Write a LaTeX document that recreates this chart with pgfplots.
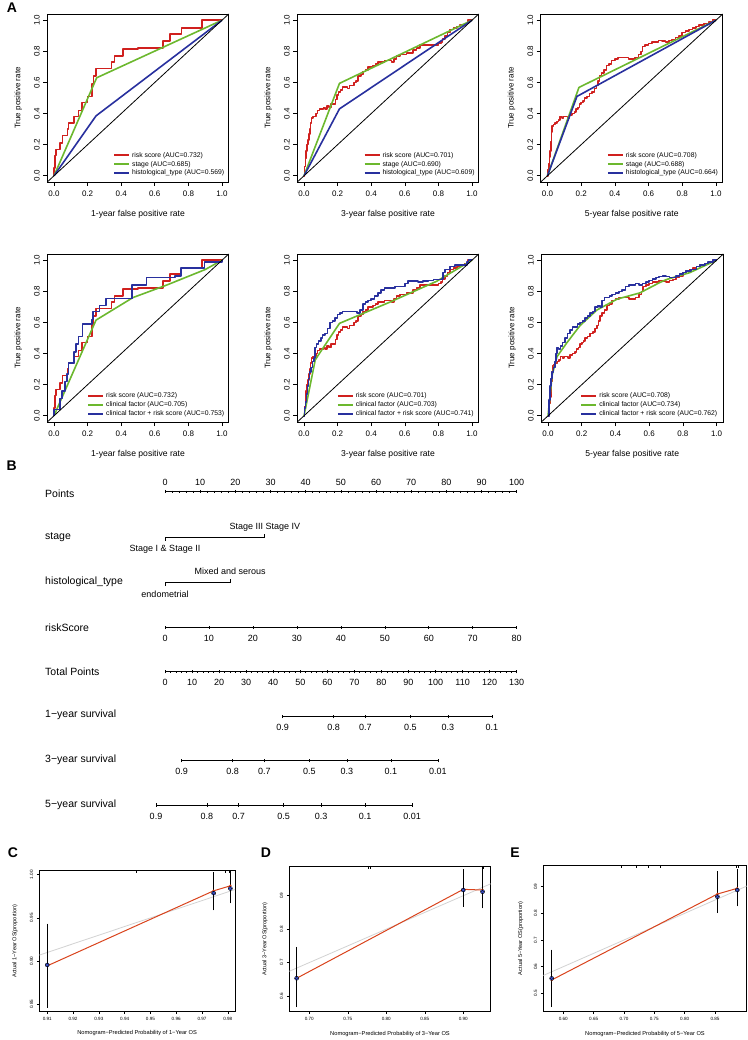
\documentclass[border=0pt]{standalone}
\usepackage{fontspec}
\setmainfont{Liberation Sans}
\usepackage{pgfplots}
\usepackage{pgfplotstable}
\pgfplotsset{compat=1.18}
\definecolor{rocred}{HTML}{D0201E}
\definecolor{rocgreen}{HTML}{6CB82E}
\definecolor{rocblue}{HTML}{28309E}
\definecolor{calred}{HTML}{D9431C}
\definecolor{calblue}{HTML}{3A4FC8}
\definecolor{calgray}{HTML}{D2D2D2}

% ---------- ROC data ----------
\pgfplotstableread{
x y
0 0
0 0.05
0.005 0.13
0.012 0.17
0.035 0.21
0.05 0.26
0.08 0.30
0.087 0.34
0.12 0.38
0.146 0.42
0.166 0.47
0.2 0.51
0.225 0.59
0.235 0.64
0.25 0.69
0.343 0.73
0.36 0.77
0.41 0.815
0.5 0.82
0.65 0.865
0.69 0.91
0.76 0.95
0.88 1.0
1.0 1.0
}\riskA
\pgfplotstableread{
x y
0 0
0.003 0.06
0.008 0.11
0.013 0.16
0.018 0.20
0.024 0.23
0.028 0.27
0.034 0.30
0.038 0.34
0.044 0.37
0.055 0.38
0.066 0.38
0.072 0.40
0.08 0.42
0.092 0.43
0.105 0.43
0.115 0.44
0.126 0.43
0.138 0.45
0.15 0.44
0.162 0.46
0.178 0.46
0.188 0.49
0.196 0.52
0.205 0.54
0.218 0.55
0.23 0.57
0.245 0.57
0.258 0.56
0.27 0.58
0.285 0.58
0.298 0.60
0.31 0.61
0.322 0.64
0.338 0.65
0.35 0.67
0.365 0.68
0.38 0.70
0.395 0.70
0.41 0.71
0.425 0.72
0.44 0.73
0.46 0.73
0.48 0.74
0.5 0.74
0.52 0.73
0.535 0.75
0.55 0.77
0.57 0.78
0.59 0.78
0.61 0.79
0.63 0.79
0.65 0.81
0.67 0.82
0.69 0.84
0.72 0.84
0.75 0.84
0.78 0.84
0.80 0.85
0.815 0.86
0.825 0.88
0.84 0.90
0.855 0.92
0.87 0.94
0.89 0.95
0.91 0.96
0.93 0.97
0.955 0.98
0.975 1.0
1 1
}\riskB
\pgfplotstableread{
x y
0 0
0.004 0.04
0.008 0.08
0.012 0.12
0.016 0.16
0.02 0.22
0.023 0.28
0.026 0.32
0.035 0.33
0.045 0.34
0.055 0.35
0.065 0.36
0.075 0.38
0.085 0.37
0.095 0.38
0.11 0.38
0.12 0.37
0.13 0.39
0.145 0.40
0.16 0.41
0.17 0.43
0.18 0.44
0.19 0.46
0.2 0.47
0.21 0.48
0.22 0.50
0.235 0.51
0.25 0.53
0.265 0.54
0.28 0.56
0.29 0.58
0.3 0.61
0.31 0.64
0.32 0.66
0.335 0.68
0.35 0.71
0.365 0.72
0.38 0.74
0.4 0.75
0.42 0.76
0.44 0.76
0.46 0.76
0.48 0.75
0.5 0.75
0.52 0.76
0.54 0.78
0.555 0.80
0.565 0.83
0.58 0.84
0.6 0.85
0.62 0.86
0.64 0.86
0.66 0.87
0.68 0.865
0.7 0.86
0.72 0.87
0.74 0.875
0.76 0.89
0.78 0.90
0.80 0.92
0.82 0.93
0.84 0.94
0.86 0.95
0.88 0.96
0.9 0.97
0.93 0.98
0.96 0.99
0.98 1.0
1 1
}\riskC
\pgfplotstableread{
x y
0 0
0 0.04
0.037 0.11
0.047 0.16
0.067 0.22
0.077 0.27
0.087 0.34
0.12 0.41
0.13 0.46
0.146 0.51
0.17 0.59
0.225 0.62
0.232 0.67
0.27 0.71
0.31 0.755
0.465 0.84
0.55 0.89
0.72 0.90
0.757 0.95
0.895 0.99
1 1
}\combA
\pgfplotstableread{
x y
0 0
0.004 0.05
0.008 0.09
0.014 0.14
0.02 0.19
0.026 0.24
0.032 0.28
0.04 0.31
0.05 0.35
0.06 0.37
0.066 0.44
0.075 0.46
0.087 0.48
0.1 0.50
0.11 0.52
0.125 0.53
0.14 0.56
0.155 0.60
0.17 0.61
0.185 0.63
0.2 0.65
0.215 0.66
0.23 0.67
0.26 0.67
0.29 0.67
0.315 0.66
0.335 0.68
0.35 0.72
0.365 0.73
0.38 0.74
0.4 0.75
0.42 0.77
0.44 0.79
0.46 0.81
0.48 0.82
0.51 0.82
0.54 0.83
0.57 0.83
0.6 0.85
0.62 0.865
0.65 0.865
0.68 0.86
0.71 0.865
0.74 0.87
0.77 0.875
0.8 0.875
0.82 0.88
0.826 0.92
0.84 0.94
0.87 0.96
0.9 0.97
0.95 0.97
0.97 0.99
0.98 1
1 1
}\combB
\pgfplotstableread{
x y
0 0
0.005 0.10
0.01 0.19
0.016 0.24
0.024 0.28
0.032 0.31
0.04 0.35
0.048 0.40
0.053 0.44
0.063 0.43
0.073 0.45
0.085 0.47
0.1 0.50
0.115 0.53
0.13 0.55
0.145 0.57
0.16 0.57
0.175 0.59
0.19 0.60
0.205 0.61
0.22 0.63
0.235 0.64
0.25 0.66
0.265 0.67
0.28 0.70
0.295 0.71
0.31 0.70
0.32 0.74
0.335 0.76
0.35 0.76
0.365 0.77
0.38 0.78
0.4 0.79
0.42 0.80
0.44 0.81
0.46 0.83
0.48 0.84
0.5 0.84
0.52 0.85
0.54 0.84
0.56 0.85
0.58 0.86
0.6 0.87
0.62 0.88
0.64 0.89
0.66 0.895
0.68 0.90
0.7 0.895
0.72 0.89
0.74 0.89
0.76 0.90
0.78 0.91
0.8 0.92
0.82 0.93
0.85 0.94
0.88 0.96
0.9 0.97
0.93 0.98
0.95 0.99
0.97 0.99
0.98 1
1 1
}\combC

\pgfplotsset{
  /pgf/number format/assume math mode=true,
  roc/.style={
    scale only axis, width=181.4pt, height=168pt,
    xmin=-0.04, xmax=1.04, ymin=-0.04, ymax=1.04,
    xtick={0,0.2,0.4,0.6,0.8,1}, ytick={0,0.2,0.4,0.6,0.8,1},
    xtick pos=bottom, ytick pos=left, tick align=outside,
    major tick length=4pt, tick style={black, line width=0.6pt},
    axis line style={line width=0.8pt},
    tick label style={font=\fontsize{8}{9}\selectfont},
    xticklabel style={yshift=-1pt, /pgf/number format/.cd, fixed, fixed zerofill, precision=1},
    yticklabel style={rotate=90, anchor=south, /pgf/number format/.cd, fixed, fixed zerofill, precision=1},
    every axis y label/.style={at={(axis description cs:-0.16,0.5)}, rotate=90, anchor=center, font=\fontsize{8}{9}\selectfont},
    every axis x label/.style={at={(axis description cs:0.5,-0.19)}, anchor=center, font=\fontsize{8.6}{10}\selectfont},
    ylabel={True positive rate},
    legend cell align=left,
    legend style={draw=none, fill=none, font=\fontsize{6.8}{8}\selectfont, anchor=south west, row sep=-1.5pt, inner sep=0pt},
    legend image code/.code={\draw[#1, line width=2pt, line cap=butt] (0pt,0pt) -- (15pt,0pt);},
  },
  rr/.style={rocred, line width=1.6pt, line join=round, forget plot},
  gg/.style={rocgreen, line width=1.6pt, line join=round, forget plot},
  bb/.style={rocblue, line width=1.6pt, line join=round, forget plot},
  diag/.style={black, line width=0.8pt, forget plot},
  nomo/.style={scale only axis, height=10pt, ymin=0, ymax=1, hide y axis, clip=false,
    xtick align=outside,
    major tick length=3.5pt, minor tick length=2pt, tick style={black, line width=0.6pt},
    tick label style={font=\fontsize{9}{10}\selectfont}},
  noarrow/.style={axis line style={-, line width=0.8pt}, every outer x axis line/.append style={-}, every inner x axis line/.append style={-}, x axis line style={-}},
  nomoseg/.style={hide axis, scale only axis, width=351.7pt, height=10pt, xmin=0, xmax=100, ymin=0, ymax=1, clip=false},
  calib/.style={
    scale only axis, xtick pos=bottom, ytick pos=left, tick align=outside,
    major tick length=2.5pt, tick style={black, line width=0.5pt}, axis line style={line width=0.6pt},
    tick label style={font=\fontsize{4.6}{5}\selectfont},
    yticklabel style={rotate=90, anchor=south},
    every axis x label/.style={at={(axis description cs:0.5,-0.152)}, anchor=center, font=\fontsize{5.7}{6.5}\selectfont},
    every axis y label/.style={at={(axis description cs:-0.125,0.5)}, rotate=90, anchor=center, font=\fontsize{5.6}{6.5}\selectfont},
  },
  ebar/.style={black, only marks, mark=none, error bars/.cd, y dir=both, y explicit,
    error bar style={line width=1.1pt, black}, error mark options={line width=1.1pt, mark size=2.2pt, black}},
}

\newcommand{\rowlab}[2]{\node[anchor=west, font=\fontsize{10.5}{12}\selectfont] at (41.7pt,-#1pt) {#2};}
\newcommand{\panel}[3]{\node[font=\bfseries\fontsize{14}{16}\selectfont] at (#1pt,-#2pt) {#3};}

\begin{document}
\begin{tikzpicture}
\useasboundingbox (0pt,0pt) rectangle (747pt,-1040pt);

% ===================== Panel A row 1 =====================
\begin{axis}[roc, at={(47.3pt,-182pt)}, anchor=south west, xlabel={1-year false positive rate},
  legend style={at={(axis description cs:0.362,0.02)}}]
\addlegendimage{color=rocred}\addlegendentry{risk score (AUC=0.732)}
\addlegendimage{color=rocgreen}\addlegendentry{stage (AUC=0.685)}
\addlegendimage{color=rocblue}\addlegendentry{histological\_type (AUC=0.569)}
\addplot[rr, const plot] table {\riskA};
\addplot[gg] coordinates {(0,0)(0.254,0.63)(1,1)};
\addplot[bb] coordinates {(0,0)(0.25,0.385)(1,1)};
\addplot[diag] coordinates {(-0.04,-0.04)(1.04,1.04)};
\end{axis}

\begin{axis}[roc, at={(297.3pt,-182pt)}, anchor=south west, xlabel={3-year false positive rate},
  legend style={at={(axis description cs:0.364,0.02)}}]
\addlegendimage{color=rocred}\addlegendentry{risk score (AUC=0.701)}
\addlegendimage{color=rocgreen}\addlegendentry{stage (AUC=0.690)}
\addlegendimage{color=rocblue}\addlegendentry{histological\_type (AUC=0.609)}
\addplot[rr, const plot] table {\riskB};
\addplot[gg] coordinates {(0,0)(0.211,0.594)(1,1)};
\addplot[bb] coordinates {(0,0)(0.211,0.43)(1,1)};
\addplot[diag] coordinates {(-0.04,-0.04)(1.04,1.04)};
\end{axis}

\begin{axis}[roc, width=182pt, at={(540.7pt,-182pt)}, anchor=south west, xlabel={5-year false positive rate},
  legend style={at={(axis description cs:0.363,0.02)}}]
\addlegendimage{color=rocred}\addlegendentry{risk score (AUC=0.708)}
\addlegendimage{color=rocgreen}\addlegendentry{stage (AUC=0.688)}
\addlegendimage{color=rocblue}\addlegendentry{histological\_type (AUC=0.664)}
\addplot[rr, const plot] table {\riskC};
\addplot[gg] coordinates {(0,0)(0.187,0.568)(1,1)};
\addplot[bb] coordinates {(0,0)(0.175,0.51)(1,1)};
\addplot[diag] coordinates {(-0.04,-0.04)(1.04,1.04)};
\end{axis}

% ===================== Panel A row 2 =====================
\begin{axis}[roc, at={(47.3pt,-422pt)}, anchor=south west, xlabel={1-year false positive rate},
  legend style={at={(axis description cs:0.219,0.018)}}]
\addlegendimage{color=rocred}\addlegendentry{risk score (AUC=0.732)}
\addlegendimage{color=rocgreen}\addlegendentry{clinical factor (AUC=0.705)}
\addlegendimage{color=rocblue}\addlegendentry{clinical factor + risk score (AUC=0.753)}
\addplot[rr, const plot] table {\riskA};
\addplot[gg] coordinates {(0,0)(0.02,0.05)(0.25,0.615)(0.47,0.76)(0.67,0.84)(0.9,0.94)(1,1)};
\addplot[bb, const plot] table {\combA};
\addplot[diag] coordinates {(-0.04,-0.04)(1.04,1.04)};
\end{axis}

\begin{axis}[roc, at={(297.3pt,-422pt)}, anchor=south west, xlabel={3-year false positive rate},
  legend style={at={(axis description cs:0.217,0.018)}}]
\addlegendimage{color=rocred}\addlegendentry{risk score (AUC=0.701)}
\addlegendimage{color=rocgreen}\addlegendentry{clinical factor (AUC=0.703)}
\addlegendimage{color=rocblue}\addlegendentry{clinical factor + risk score (AUC=0.741)}
\addplot[rr, const plot] table {\riskB};
\addplot[gg] coordinates {(0,0)(0.067,0.36)(0.211,0.594)(0.51,0.73)(0.79,0.865)(1,1)};
\addplot[bb, const plot] table {\combB};
\addplot[diag] coordinates {(-0.04,-0.04)(1.04,1.04)};
\end{axis}

\begin{axis}[roc, width=182pt, at={(541.3pt,-422pt)}, anchor=south west, xlabel={5-year false positive rate},
  legend style={at={(axis description cs:0.213,0.018)}}]
\addlegendimage{color=rocred}\addlegendentry{risk score (AUC=0.708)}
\addlegendimage{color=rocgreen}\addlegendentry{clinical factor (AUC=0.734)}
\addlegendimage{color=rocblue}\addlegendentry{clinical factor + risk score (AUC=0.762)}
\addplot[rr, const plot] table {\riskC};
\addplot[gg] coordinates {(0,0)(0.024,0.26)(0.053,0.38)(0.112,0.47)(0.19,0.58)(0.29,0.68)(0.41,0.75)(0.545,0.79)(0.66,0.855)(0.70,0.875)(0.84,0.92)(1,1)};
\addplot[bb, const plot] table {\combC};
\addplot[diag] coordinates {(-0.04,-0.04)(1.04,1.04)};
\end{axis}

% ===================== Panel B: nomogram =====================
\rowlab{493.3}{Points}
\rowlab{537.3}{stage}
\rowlab{581.7}{histological\_type}
\rowlab{627.3}{riskScore}
\rowlab{671.7}{Total Points}
\rowlab{715}{1−year survival}
\rowlab{760}{3−year survival}
\rowlab{804.3}{5−year survival}

\begin{axis}[nomo, axis x line=top, noarrow, at={(165pt,-491.7pt)}, anchor=north west, width=351.7pt,
  xmin=0, xmax=100, xtick={0,10,...,100}, minor x tick num=4, xticklabel style={yshift=0.5pt}]
\end{axis}

\begin{axis}[nomoseg, at={(165pt,-537.3pt)}, anchor=south west]
\addplot[black, line width=0.8pt] coordinates {(0,-0.35)(0,0)(28.4,0)(28.4,0.35)};
\node[font=\fontsize{9}{10}\selectfont] at (axis cs:0,-1.17) {Stage I \& Stage II};
\node[font=\fontsize{9}{10}\selectfont] at (axis cs:28.4,1.0) {Stage III Stage IV};
\end{axis}

\begin{axis}[nomoseg, at={(165pt,-582.7pt)}, anchor=south west]
\addplot[black, line width=0.8pt] coordinates {(0,-0.35)(0,0)(18.5,0)(18.5,0.35)};
\node[font=\fontsize{9}{10}\selectfont] at (axis cs:0,-1.13) {endometrial};
\node[font=\fontsize{9}{10}\selectfont] at (axis cs:18.5,1.1) {Mixed and serous};
\end{axis}

\begin{axis}[nomo, axis x line=bottom, noarrow, at={(165pt,-627.3pt)}, anchor=south west, width=351.7pt,
  xmin=0, xmax=80, xtick={0,10,...,80}, xticklabel style={yshift=-2.5pt}]
\end{axis}

\begin{axis}[nomo, axis x line=bottom, noarrow, at={(165pt,-671.7pt)}, anchor=south west, width=351.7pt,
  xmin=0, xmax=130, xtick={0,10,...,130}, minor x tick num=4, xticklabel style={yshift=-2.5pt}]
\end{axis}

\begin{axis}[nomo, axis x line=bottom, noarrow, at={(282.7pt,-716.7pt)}, anchor=south west, width=209.1pt,
  xmin=43.5, xmax=120.8, xtick={43.5,62.31,74.06,90.71,104.55,120.8},
  xticklabels={0.9,0.8,0.7,0.5,0.3,0.1}, xticklabel style={yshift=-2.5pt}]
\end{axis}

\begin{axis}[nomo, axis x line=bottom, noarrow, at={(181.7pt,-760.7pt)}, anchor=south west, width=256.1pt,
  xmin=6.17, xmax=100.84, xtick={6.17,24.98,36.73,53.38,67.22,83.47,100.84},
  xticklabels={0.9,0.8,0.7,0.5,0.3,0.1,0.01}, xticklabel style={yshift=-2.5pt}]
\end{axis}

\begin{axis}[nomo, axis x line=bottom, noarrow, at={(156pt,-805pt)}, anchor=south west, width=256.1pt,
  xmin=-3.33, xmax=91.34, xtick={-3.33,15.48,27.23,43.88,57.72,73.97,91.34},
  xticklabels={0.9,0.8,0.7,0.5,0.3,0.1,0.01}, xticklabel style={yshift=-2.5pt}]
\end{axis}

% ===================== Panels C, D, E =====================
\begin{axis}[calib, at={(39.3pt,-1011.7pt)}, anchor=south west, width=195.7pt, height=141.7pt,
  xmin=0.9069, xmax=0.9828, ymin=0.8414, ymax=1.0054,
  xtick={0.91,0.92,0.93,0.94,0.95,0.96,0.97,0.98}, ytick={0.85,0.90,0.95,1.00},
  xticklabel style={/pgf/number format/.cd, fixed, fixed zerofill, precision=2},
  yticklabel style={/pgf/number format/.cd, fixed, fixed zerofill, precision=2},
  xlabel={Nomogram−Predicted Probability of 1−Year OS}, ylabel={Actual 1−Year OS(proportion)}]
\addplot[calgray, line width=0.8pt] coordinates {(0.9069,0.9069)(0.9828,0.9828)};
\addplot[calred, line width=1pt, mark=*, mark size=0.7pt] coordinates {(0.91,0.8945)(0.9745,0.9813)(0.981,0.9871)};
\addplot[ebar] coordinates {(0.91,0.8955) += (0,0.0452) -= (0,0.047) (0.9745,0.9786) += (0,0.0214) -= (0,0.0174) (0.981,0.984) += (0,0.019) -= (0,0.0147)};
\addplot[calblue, only marks, mark=x, mark size=2pt, line width=0.9pt] coordinates {(0.91,0.8955)(0.9745,0.9786)(0.981,0.984)};
\addplot[black, only marks, mark=|, mark size=1.3pt] coordinates {(0.9445,1.0039)(0.979,1.0039)(0.9805,1.0039)};
\end{axis}

\begin{axis}[calib, at={(289.3pt,-1011.7pt)}, anchor=south west, width=201.4pt, height=145.7pt,
  xmin=0.674, xmax=0.9356, ymin=0.553, ymax=0.9888,
  xtick={0.70,0.75,0.80,0.85,0.90}, ytick={0.6,0.7,0.8,0.9},
  xticklabel style={/pgf/number format/.cd, fixed, fixed zerofill, precision=2},
  yticklabel style={/pgf/number format/.cd, fixed, fixed zerofill, precision=1},
  xlabel={Nomogram−Predicted Probability of 3−Year OS}, ylabel={Actual 3−Year OS(proportion)},
  every axis y label/.style={at={(axis description cs:-0.121,0.5)}, rotate=90, anchor=center, font=\fontsize{5.6}{6.5}\selectfont}]
\addplot[calgray, line width=0.8pt] coordinates {(0.674,0.674)(0.9356,0.9356)};
\addplot[calred, line width=1pt, mark=*, mark size=0.7pt] coordinates {(0.6835,0.653)(0.90,0.919)(0.925,0.917)};
\addplot[ebar] coordinates {(0.6835,0.653) += (0,0.087) -= (0,0.080) (0.90,0.917) += (0,0.055) -= (0,0.043) (0.925,0.912) += (0,0.065) -= (0,0.043)};
\addplot[calblue, only marks, mark=x, mark size=2pt, line width=0.9pt] coordinates {(0.6835,0.653)(0.90,0.917)(0.925,0.912)};
\addplot[black, only marks, mark=|, mark size=1.3pt] coordinates {(0.776,0.985)(0.779,0.985)(0.924,0.985)(0.926,0.985)};
\end{axis}

\begin{axis}[calib, at={(543.3pt,-1011.7pt)}, anchor=south west, width=203.4pt, height=146.7pt,
  xmin=0.567, xmax=0.9023, ymin=0.431, ymax=0.9814,
  xtick={0.60,0.65,0.70,0.75,0.80,0.85}, ytick={0.5,0.6,0.7,0.8,0.9},
  xticklabel style={/pgf/number format/.cd, fixed, fixed zerofill, precision=2},
  yticklabel style={/pgf/number format/.cd, fixed, fixed zerofill, precision=1},
  xlabel={Nomogram−Predicted Probability of 5−Year OS}, ylabel={Actual 5−Year OS(proportion)},
  every axis y label/.style={at={(axis description cs:-0.111,0.5)}, rotate=90, anchor=center, font=\fontsize{5.6}{6.5}\selectfont}]
\addplot[calgray, line width=0.8pt] coordinates {(0.567,0.567)(0.9023,0.9023)};
\addplot[calred, line width=1pt, mark=*, mark size=0.7pt] coordinates {(0.5808,0.55)(0.854,0.8725)(0.8868,0.894)};
\addplot[ebar] coordinates {(0.5808,0.556) += (0,0.1) -= (0,0.1) (0.854,0.8625) += (0,0.0875) -= (0,0.0535) (0.8868,0.8875) += (0,0.0715) -= (0,0.0535)};
\addplot[calblue, only marks, mark=x, mark size=2pt, line width=0.9pt] coordinates {(0.5808,0.556)(0.854,0.8625)(0.8868,0.8875)};
\addplot[black, only marks, mark=|, mark size=1.3pt] coordinates {(0.695,0.9765)(0.72,0.9765)(0.74,0.9765)(0.76,0.9765)(0.885,0.9765)(0.888,0.9765)};
\end{axis}

% ===================== Panel letters =====================
\panel{12}{8}{A}
\panel{11.7}{466}{B}
\panel{13}{853}{C}
\panel{266}{853}{D}
\panel{515}{853}{E}
\end{tikzpicture}
\end{document}
